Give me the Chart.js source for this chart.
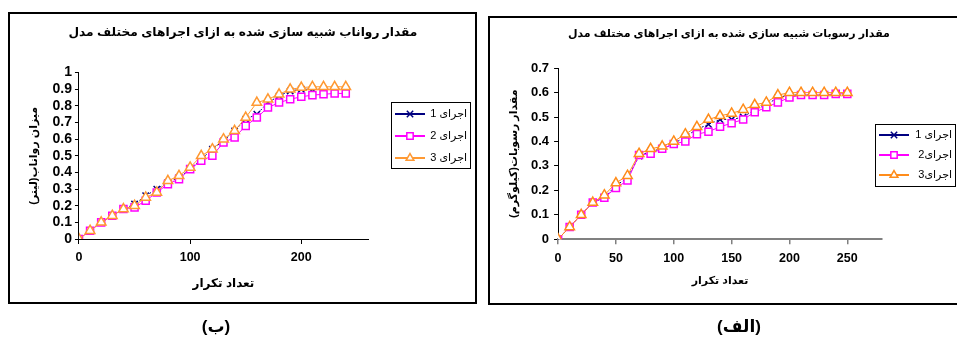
<!DOCTYPE html>
<html>
<head>
<meta charset="utf-8">
<script src="https://cdn.jsdelivr.net/npm/chart.js@4/dist/chart.umd.min.js"></script>
<style>
  body { margin: 0; background: #fff; width: 957px; height: 339px; overflow: hidden; position: relative;
         font-family: Arial, "Liberation Sans", "DejaVu Sans", sans-serif; }
  .frame { position: absolute; border: 2px solid #000; box-sizing: border-box; }
  #frame-left { left: 8px; top: 12px; width: 469px; height: 292px; }
  #frame-right { left: 488px; top: 16px; width: 480px; height: 289px; }
  canvas { position: absolute; top: 0; }
  #runoff-chart { left: 0; }
  #sediment-chart { left: 480px; }
  .caption { position: absolute; top: 316px; font-size: 17px; font-weight: bold; transform: translateX(-50%); white-space: nowrap; }
</style>
</head>
<body>
<div class="frame" id="frame-left"></div>
<div class="frame" id="frame-right"></div>
<canvas id="runoff-chart" width="480" height="339"></canvas>
<canvas id="sediment-chart" width="477" height="339"></canvas>
<div class="caption" style="left:216px">(ب)</div>
<div class="caption" style="left:739px">(الف)</div>

<script>
// runoff chart (ب)
const runoffIterations = [0, 10, 20, 30, 40, 50, 60, 70, 80, 90, 100, 110, 120, 130, 140, 150, 160, 170, 180, 190, 200, 210, 220, 230, 240];
const runoffRun1 = [0, 0.05, 0.1, 0.14, 0.18, 0.21, 0.26, 0.3, 0.34, 0.37, 0.42, 0.48, 0.54, 0.59, 0.65, 0.72, 0.75, 0.82, 0.86, 0.89, 0.9, 0.9, 0.9, 0.9, 0.9];
const runoffRun2 = [0, 0.05, 0.1, 0.14, 0.18, 0.19, 0.23, 0.28, 0.33, 0.36, 0.42, 0.47, 0.5, 0.58, 0.61, 0.68, 0.73, 0.79, 0.82, 0.84, 0.855, 0.865, 0.87, 0.875, 0.875];
const runoffRun3 = [0, 0.05, 0.1, 0.14, 0.18, 0.2, 0.25, 0.28, 0.35, 0.38, 0.43, 0.5, 0.54, 0.6, 0.65, 0.73, 0.82, 0.84, 0.87, 0.9, 0.91, 0.915, 0.915, 0.915, 0.915];
const runoffXTicks = [0, 100, 200];
const runoffLabels = ['اجرای 1', 'اجرای 2', 'اجرای 3'];

// sediment chart (الف)
const sedimentIterations = [0, 10, 20, 30, 40, 50, 60, 70, 80, 90, 100, 110, 120, 130, 140, 150, 160, 170, 180, 190, 200, 210, 220, 230, 240, 250];
const sedimentRun1 = [0, 0.05, 0.1, 0.15, 0.17, 0.22, 0.25, 0.34, 0.36, 0.37, 0.39, 0.42, 0.45, 0.47, 0.49, 0.49, 0.5, 0.53, 0.55, 0.58, 0.59, 0.59, 0.59, 0.59, 0.595, 0.595];
const sedimentRun2 = [0, 0.05, 0.1, 0.15, 0.17, 0.21, 0.24, 0.345, 0.35, 0.37, 0.39, 0.4, 0.43, 0.44, 0.46, 0.475, 0.49, 0.52, 0.54, 0.56, 0.58, 0.59, 0.59, 0.59, 0.595, 0.595];
const sedimentRun3 = [0, 0.05, 0.1, 0.15, 0.18, 0.23, 0.26, 0.35, 0.37, 0.38, 0.4, 0.43, 0.46, 0.49, 0.505, 0.515, 0.53, 0.55, 0.56, 0.59, 0.6, 0.6, 0.6, 0.6, 0.6, 0.6];
const sedimentXTicks = [0, 50, 100, 150, 200, 250];
const sedimentLabels = ['اجرای 1', 'اجرای2', 'اجرای3'];

const FONT = 'Arial, "Liberation Sans", "DejaVu Sans", sans-serif';
Chart.defaults.font.family = FONT;
Chart.defaults.color = '#000';

function toPoints(xs, ys) {
  return ys.map((y, i) => ({ x: xs[i], y: y }));
}

function tickText(v) {
  return String(+v.toFixed(2));
}

// empty axis on the right, only keeps room for the legend box
function legendRoom(width) {
  return {
    position: 'right',
    grid: { display: false, drawTicks: false },
    border: { display: false },
    ticks: { display: false },
    afterFit: s => { s.width = width; }
  };
}

// excel-like legend with a frame, line + marker, rtl text
const boxLegend = {
  id: 'boxLegend',
  afterDraw(chart, args, opts) {
    const ctx = chart.ctx;
    ctx.save();
    ctx.strokeStyle = '#000';
    ctx.lineWidth = 1;
    ctx.setLineDash([]);
    ctx.strokeRect(opts.x + 0.5, opts.y + 0.5, opts.width, opts.height);
    chart.data.datasets.forEach((ds, i) => {
      const cy = opts.y + opts.firstRow + i * opts.rowGap;
      const x0 = opts.x + 4;
      ctx.strokeStyle = ds.borderColor;
      ctx.lineWidth = 2;
      ctx.beginPath();
      ctx.moveTo(x0, cy);
      ctx.lineTo(x0 + opts.lineLength, cy);
      ctx.stroke();
      ctx.fillStyle = '#fff';
      ctx.lineWidth = 1.5;
      Chart.helpers.drawPoint(ctx, { pointStyle: ds.pointStyle, radius: 4.5, borderWidth: 1.5, rotation: 0 }, x0 + opts.lineLength / 2, cy);
      ctx.fillStyle = '#000';
      ctx.font = '11px ' + FONT;
      ctx.direction = 'rtl';
      ctx.textAlign = 'right';
      ctx.textBaseline = 'middle';
      ctx.fillText(ds.label, opts.x + opts.width - 3, cy);
    });
    ctx.restore();
  }
};

function makeDatasets(xs, runs, labels, colors) {
  const styles = ['crossRot', 'rect', 'triangle'];
  const radii = [4.5, 5, 5.5];
  return runs.map((ys, i) => ({
    label: labels[i],
    data: toPoints(xs, ys),
    borderColor: colors[i],
    backgroundColor: colors[i],
    borderWidth: 1,
    borderDash: i === 0 ? [2, 2] : [],
    pointStyle: styles[i],
    pointRadius: radii[i],
    pointBorderWidth: 1.5,
    pointBackgroundColor: '#fff',
    order: 3 - i
  }));
}

function initCharts() {
  // Runoff chart
  new Chart(document.getElementById('runoff-chart').getContext('2d'), {
    type: 'line',
    data: {
      datasets: makeDatasets(runoffIterations, [runoffRun1, runoffRun2, runoffRun3], runoffLabels, ['#000080', '#FF00FF', '#FF9933'])
    },
    options: {
      responsive: false,
      animation: false,
      layout: { padding: { left: 27.8, right: 22, top: 0, bottom: 48.6 } },
      plugins: {
        legend: { display: false },
        tooltip: { enabled: false },
        title: {
          display: true,
          text: 'مقدار رواناب شبیه سازی شده به ازای اجراهای مختلف مدل',
          color: '#000',
          font: { size: 12.2, weight: 'bold' },
          padding: { top: 25.5, bottom: 32.5 }
        },
        boxLegend: { x: 391, y: 102, width: 79, height: 66, firstRow: 12, rowGap: 22, lineLength: 30 }
      },
      scales: {
        x: {
          type: 'linear',
          min: 0,
          max: 260,
          afterBuildTicks: s => { s.ticks = runoffXTicks.map(v => ({ value: v })); },
          grid: { drawOnChartArea: false, drawTicks: true, tickLength: 5, color: '#000' },
          border: { color: '#000', width: 1 },
          ticks: { font: { size: 12.5, weight: 'bold' }, padding: 6, maxRotation: 0 },
          title: { display: true, text: 'تعداد تکرار', font: { size: 12, weight: 'bold' }, padding: { top: 5, bottom: 0 } }
        },
        y: {
          min: 0,
          max: 1,
          grid: { drawOnChartArea: false, drawTicks: true, tickLength: 4, color: '#000' },
          border: { color: '#000', width: 1 },
          ticks: { stepSize: 0.1, autoSkip: false, font: { size: 14, weight: 'bold' }, padding: 3, callback: tickText },
          title: { display: true, text: 'میزان رواناب(لیتر)', font: { size: 11, weight: 'bold' }, padding: { top: 0, bottom: 8.5 } }
        },
        room: legendRoom(90)
      }
    },
    plugins: [boxLegend]
  });

  // Sediment chart
  new Chart(document.getElementById('sediment-chart').getContext('2d'), {
    type: 'line',
    data: {
      datasets: makeDatasets(sedimentIterations, [sedimentRun1, sedimentRun2, sedimentRun3], sedimentLabels, ['#000080', '#FF00FF', '#FF8C1A'])
    },
    options: {
      responsive: false,
      animation: false,
      layout: { padding: { left: 27.8, right: 7, top: 0, bottom: 51.6 } },
      plugins: {
        legend: { display: false },
        tooltip: { enabled: false },
        title: {
          display: true,
          text: 'مقدار رسوبات شبیه سازی شده به ازای اجراهای مختلف مدل',
          color: '#000',
          font: { size: 11, weight: 'bold' },
          padding: { top: 27, bottom: 28 }
        },
        boxLegend: { x: 395, y: 124, width: 80, height: 62, firstRow: 11, rowGap: 20, lineLength: 30 }
      },
      scales: {
        x: {
          type: 'linear',
          min: 0,
          max: 280,
          afterBuildTicks: s => { s.ticks = sedimentXTicks.map(v => ({ value: v })); },
          grid: { drawOnChartArea: false, drawTicks: true, tickLength: 5, color: '#808080', lineWidth: 1.5 },
          border: { color: '#808080', width: 2 },
          ticks: { font: { size: 12.5, weight: 'bold' }, padding: 7, maxRotation: 0 },
          title: { display: true, text: 'تعداد تکرار', font: { size: 11, weight: 'bold' }, padding: { top: 1, bottom: 0 } }
        },
        y: {
          min: 0,
          max: 0.7,
          grid: { drawOnChartArea: false, drawTicks: true, tickLength: 4, color: '#000' },
          border: { color: '#000', width: 1 },
          ticks: { stepSize: 0.1, autoSkip: false, font: { size: 13, weight: 'bold' }, padding: 5, callback: tickText },
          title: { display: true, text: 'مقدار رسوبات(کیلوگرم)', font: { size: 11, weight: 'bold' }, padding: { top: 0, bottom: 5 } }
        },
        room: legendRoom(68)
      }
    },
    plugins: [boxLegend]
  });
}

document.addEventListener('DOMContentLoaded', initCharts);
</script>
</body>
</html>
